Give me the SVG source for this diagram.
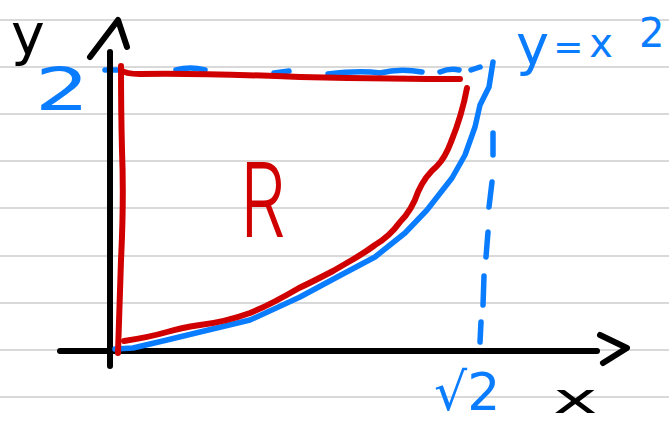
<svg xmlns="http://www.w3.org/2000/svg" width="669" height="426" viewBox="0 0 669 426">
<style>
.rule{stroke:#d9d9d9;stroke-width:2}
.ink{fill:none;stroke-linecap:round;stroke-linejoin:round}
.blk{stroke:#000;stroke-width:6}
.blue{stroke:#0a7cff;stroke-width:5.5}
.red{stroke:#d00000;stroke-width:6}
.t{font-family:"DejaVu Sans","Liberation Sans",sans-serif}
</style>
<rect width="669" height="426" fill="#fff"/>
<g id="paper">
<line class="rule" x1="0" y1="20" x2="669" y2="20"/>
<line class="rule" x1="0" y1="67" x2="669" y2="67"/>
<line class="rule" x1="0" y1="114" x2="669" y2="114"/>
<line class="rule" x1="0" y1="161" x2="669" y2="161"/>
<line class="rule" x1="0" y1="208" x2="669" y2="208"/>
<line class="rule" x1="0" y1="256" x2="669" y2="256"/>
<line class="rule" x1="0" y1="303" x2="669" y2="303"/>
<line class="rule" x1="0" y1="350" x2="669" y2="350"/>
<line class="rule" x1="0" y1="397" x2="669" y2="397"/>
</g>
<g id="guides">
<g class="ink blue">
<path d="M105,70 L117,70"/>
<path d="M176,70 Q190,66 205,70"/>
<path d="M274,73 L289,71"/>
<path d="M328,74 Q360,70 380,73 Q400,68 422,72"/>
<path d="M440,72 Q450,68 459,70"/>
<path d="M471,70 L480,67"/>
<path d="M493,133 L493,155"/>
<path d="M492,182 L489,207"/>
<path d="M488,232 L486,257"/>
<path d="M484,276 L483,305"/>
<path d="M481,322 L480,342"/>
</g>
</g>
<g id="axes" class="ink blk">
<path d="M110,52 L110,366"/>
<path d="M90,57 L118,20 L127,47"/>
<path d="M60,351 L597,351"/>
<path d="M600,335 L627,348 L603,363"/>
</g>
<g id="curve-y-x2" class="ink blue">
<path d="M115,349 L133,348 L167,340 L200,332 L250,320 L300,297 L341,275 L375,257 L405,233 L427,210 L452,178 L465,155 L475,127 L480,105 L489,87 L493,62"/>
</g>
<g id="region-R" class="ink red">
<path d="M121,66 Q121,110 122,150 Q124,200 121,260 L118,353"/>
<path d="M121,70 Q125,74 140,74 Q200,73 300,77 Q400,79 460,79"/>
<path d="M467,88 Q462,115 451,142 Q445,158 437,166 Q425,176 418,192 Q412,210 400,222 Q390,236 375,245 Q363,254 345,264 L333,271 Q310,283 299,288 Q270,305 250,313 Q225,322 200,325 Q180,328 167,332 Q150,337 124,341"/>
</g>
<g id="labels" class="t">
<text x="11" y="54" font-size="57" fill="#000">y</text>
<text transform="translate(35,110) scale(1.45,1)" font-size="59" fill="#0a7cff">2</text>
<text x="516" y="64" fill="#0a7cff"><tspan font-size="56">y</tspan><tspan font-size="36" dx="4" dy="-5">=</tspan><tspan font-size="40" dx="6" dy="-2">x</tspan><tspan font-size="40" dx="26" dy="-10">2</tspan></text>
<text x="434" y="410" font-size="52" fill="#0a7cff">√2</text>
<text transform="translate(553,413) scale(1.8,1)" font-size="42" fill="#000">x</text>
<text transform="translate(240,237) scale(0.7,1)" font-size="103" font-weight="300" fill="#d00000" style="font-family:Inter,'DejaVu Sans',sans-serif">R</text>
</g>
</svg>
